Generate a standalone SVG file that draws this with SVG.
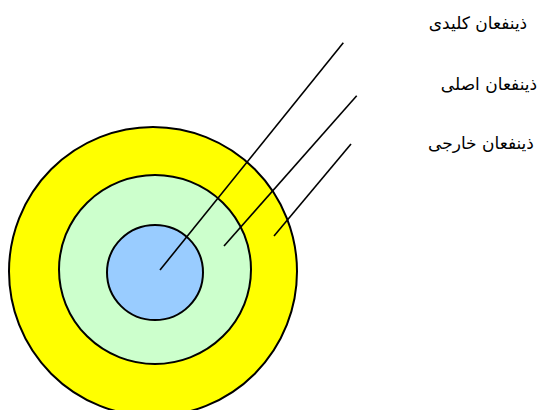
<svg xmlns="http://www.w3.org/2000/svg" width="538" height="410" viewBox="0 0 538 410">
<style>
.ring{stroke:#000;stroke-width:2}
.lbl{font-family:"DejaVu Sans","Noto Sans",sans-serif;font-size:17px;fill:#000;text-anchor:middle}
.conn line{stroke:#000;stroke-width:1.6}
</style>
<rect width="538" height="410" fill="#fff"/>
<g id="outer"><ellipse class="ring" cx="153" cy="271.5" rx="144" ry="144.5" fill="#ffff00"/></g>
<g id="middle"><ellipse class="ring" cx="155" cy="269.5" rx="96" ry="94.5" fill="#ccffcc"/></g>
<g id="inner"><ellipse class="ring" cx="155" cy="272.5" rx="48" ry="47.5" fill="#99ccff"/></g>
<g class="conn" id="connectors">
<line x1="160" y1="270" x2="343.3" y2="42.7"/>
<line x1="224" y1="246" x2="356.7" y2="95.7"/>
<line x1="274" y1="236" x2="351" y2="144"/>
</g>
<g id="label-key"><text class="lbl" x="478" y="29" direction="rtl">ذینفعان کلیدی</text></g>
<g id="label-primary"><text class="lbl" x="489" y="90" direction="rtl">ذینفعان اصلی</text></g>
<g id="label-external"><text class="lbl" x="481" y="149" direction="rtl">ذینفعان خارجی</text></g>
</svg>
